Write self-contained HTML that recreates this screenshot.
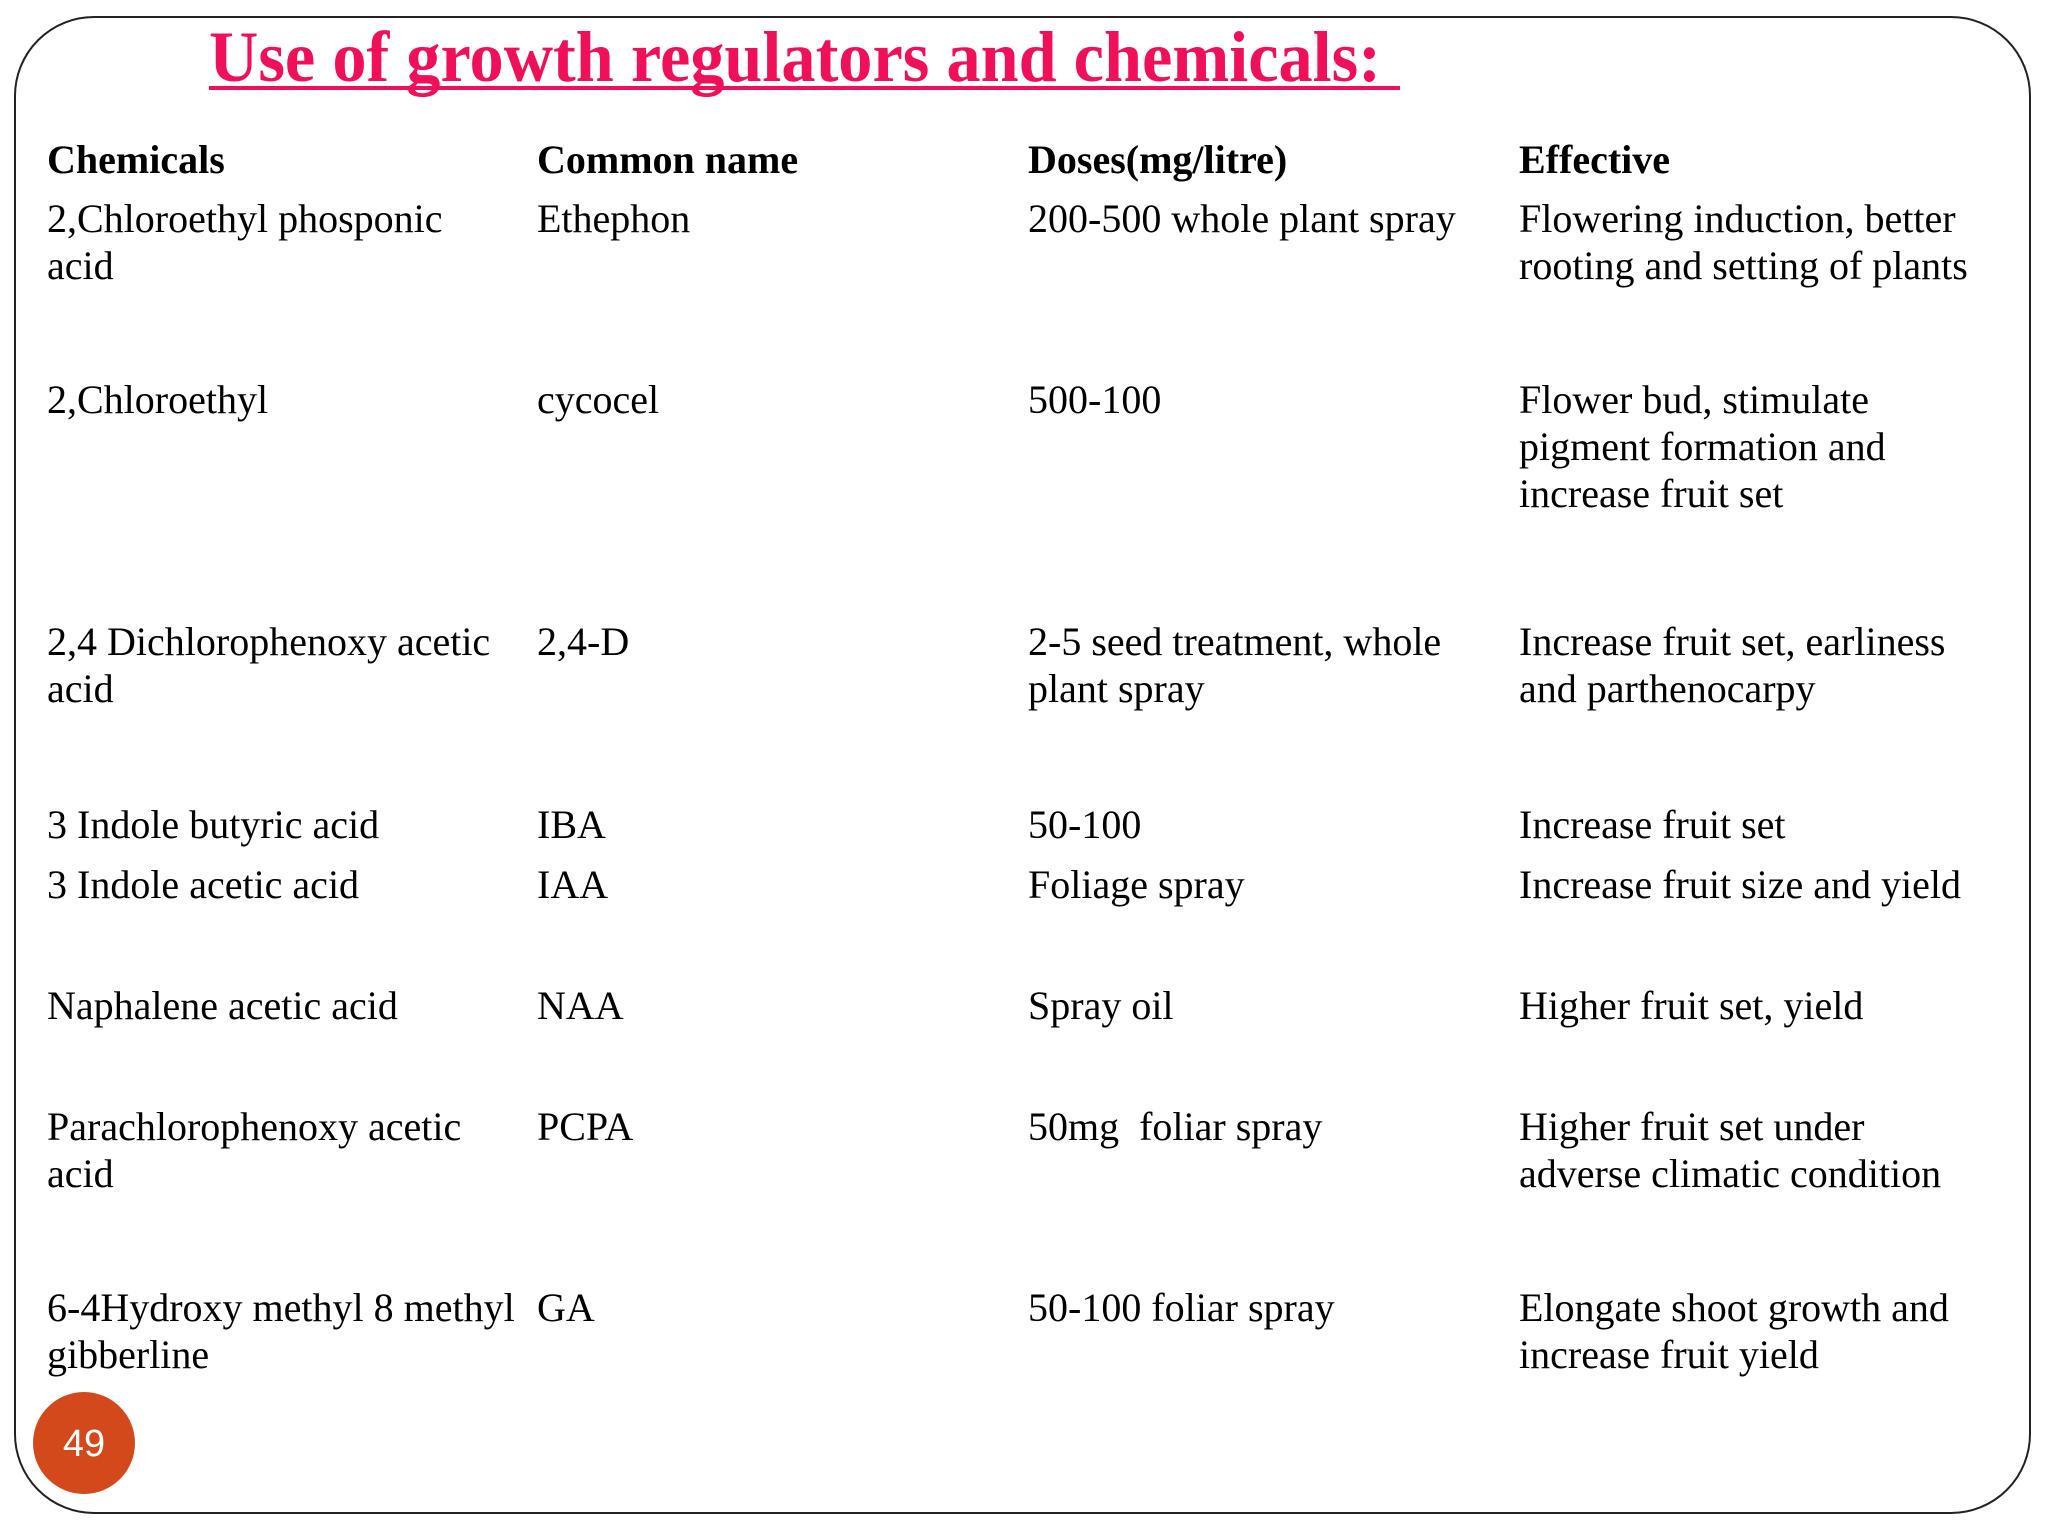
<!DOCTYPE html>
<html><head><meta charset="utf-8"><style>
body{margin:0;width:2048px;height:1536px;background:#fff;position:relative;overflow:hidden;font-family:"Liberation Serif",serif;color:#000}
.frame{position:absolute;left:14px;top:16px;width:2017px;height:1498px;border:2px solid #222;border-radius:80px;box-sizing:border-box}
.t{position:absolute;font-size:40px;line-height:47px;white-space:nowrap;margin-top:0px}
.h{font-weight:bold}
.title{position:absolute;left:209px;top:16px;font-size:72px;font-weight:bold;color:#f0105a;white-space:nowrap;transform-origin:0 0}
.ul{position:absolute;left:209px;top:86px;width:1191px;height:4px;background:#f0105a}
.num{position:absolute;left:33px;top:1392px;width:102px;height:102px;border-radius:50%;background:#d4491b;color:#fff;font-family:"Liberation Sans",sans-serif;font-size:38px;line-height:104px;text-align:center}
</style></head><body>
<div class="frame"></div>
<div class="title" id="ti">Use of growth regulators and chemicals:</div>
<div class="ul"></div>
<div class="t h" style="left:47px;top:136px">Chemicals</div>
<div class="t h" style="left:537px;top:136px">Common name</div>
<div class="t h" style="left:1028px;top:136px">Doses(mg/litre)</div>
<div class="t h" style="left:1519px;top:136px">Effective</div>

<div class="t" style="left:47px;top:195px">2,Chloroethyl phosponic<br>acid</div>
<div class="t" style="left:537px;top:195px">Ethephon</div>
<div class="t" style="left:1028px;top:195px">200-500 whole plant spray</div>
<div class="t" style="left:1519px;top:195px">Flowering induction, better<br>rooting and setting of plants</div>

<div class="t" style="left:47px;top:376px">2,Chloroethyl</div>
<div class="t" style="left:537px;top:376px">cycocel</div>
<div class="t" style="left:1028px;top:376px">500-100</div>
<div class="t" style="left:1519px;top:376px">Flower bud, stimulate<br>pigment formation and<br>increase fruit set</div>

<div class="t" style="left:47px;top:618px">2,4 Dichlorophenoxy acetic<br>acid</div>
<div class="t" style="left:537px;top:618px">2,4-D</div>
<div class="t" style="left:1028px;top:618px">2-5 seed treatment, whole<br>plant spray</div>
<div class="t" style="left:1519px;top:618px">Increase fruit set, earliness<br>and parthenocarpy</div>

<div class="t" style="left:47px;top:801px">3 Indole butyric acid</div>
<div class="t" style="left:537px;top:801px">IBA</div>
<div class="t" style="left:1028px;top:801px">50-100</div>
<div class="t" style="left:1519px;top:801px">Increase fruit set</div>

<div class="t" style="left:47px;top:861px">3 Indole acetic acid</div>
<div class="t" style="left:537px;top:861px">IAA</div>
<div class="t" style="left:1028px;top:861px">Foliage spray</div>
<div class="t" style="left:1519px;top:861px">Increase fruit size and yield</div>

<div class="t" style="left:47px;top:982px">Naphalene acetic acid</div>
<div class="t" style="left:537px;top:982px">NAA</div>
<div class="t" style="left:1028px;top:982px">Spray oil</div>
<div class="t" style="left:1519px;top:982px">Higher fruit set, yield</div>

<div class="t" style="left:47px;top:1103px">Parachlorophenoxy acetic<br>acid</div>
<div class="t" style="left:537px;top:1103px">PCPA</div>
<div class="t" style="left:1028px;top:1103px">50mg&nbsp; foliar spray</div>
<div class="t" style="left:1519px;top:1103px">Higher fruit set under<br>adverse climatic condition</div>

<div class="t" style="left:47px;top:1284px">6-4Hydroxy methyl 8 methyl<br>gibberline</div>
<div class="t" style="left:537px;top:1284px">GA</div>
<div class="t" style="left:1028px;top:1284px">50-100 foliar spray</div>
<div class="t" style="left:1519px;top:1284px">Elongate shoot growth and<br>increase fruit yield</div>

<div class="num">49</div>
<script>
var t=document.getElementById('ti');var w=t.getBoundingClientRect().width;t.style.transform='scaleX('+(1172/w)+')';
</script>
</body></html>
